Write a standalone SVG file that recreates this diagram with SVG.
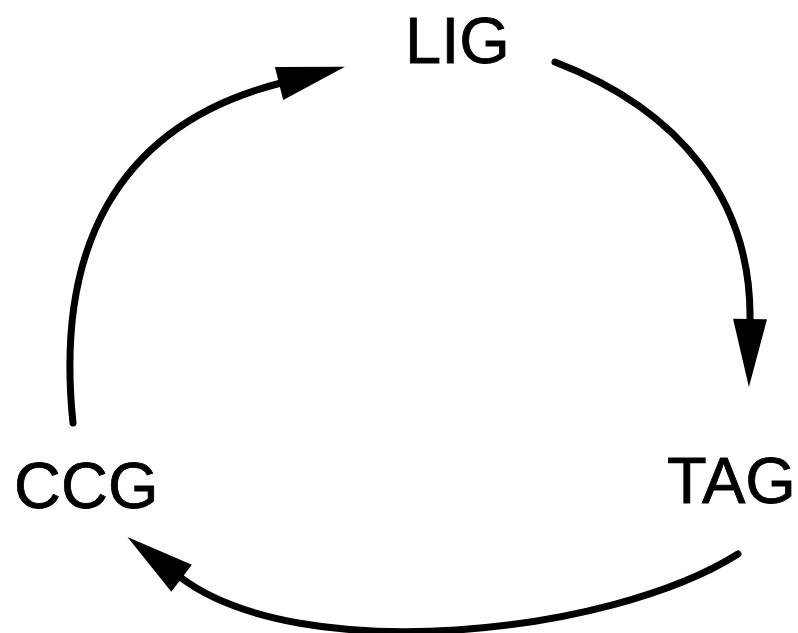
<svg xmlns="http://www.w3.org/2000/svg" width="798" height="633" viewBox="0 0 798 633">
<style>
.lbl{font-family:"Liberation Sans",Arial,sans-serif;font-size:65px;fill:#000;stroke:#000;stroke-width:0.8}
.edge{fill:none;stroke:#000;stroke-width:7;stroke-linecap:round}
</style>
<defs>
<marker id="ah" markerUnits="userSpaceOnUse" orient="auto" refX="2" refY="0" markerWidth="80" markerHeight="40" viewBox="0 -20 80 40" overflow="visible">
<path d="M0,-17 L68,0 L0,17 Z" fill="#000"/>
</marker>
</defs>
<rect width="798" height="633" fill="#fff"/>
<g id="LIG"><text class="lbl" x="405" y="63">LIG</text></g>
<g id="TAG"><text class="lbl" x="667" y="503">TAG</text></g>
<g id="CCG"><text class="lbl" x="14" y="508">CCG</text></g>
<g id="connectors">
<path class="edge" d="M555,62 C680,110 752,200 750,321" marker-end="url(#ah)"/>
<path class="edge" d="M738,554 C610,635 300,668 180,577" marker-end="url(#ah)"/>
<path class="edge" d="M73,423 C55,250 115,125 281,83" marker-end="url(#ah)"/>
</g>
</svg>
